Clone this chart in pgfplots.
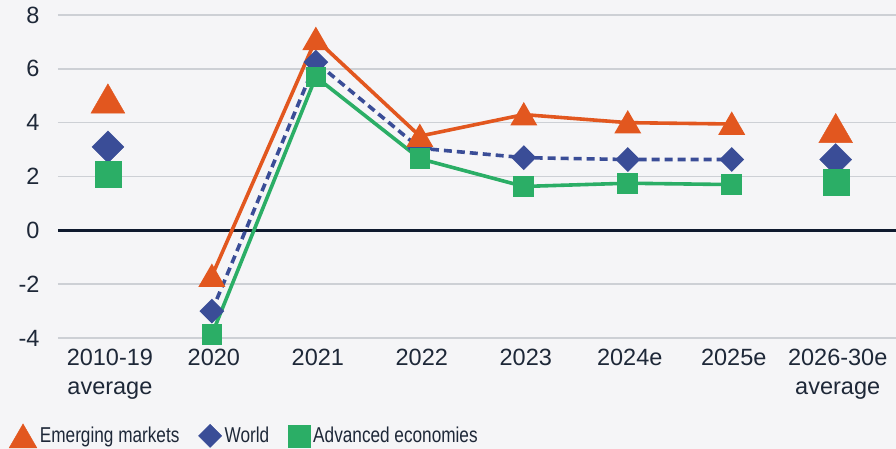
\documentclass[border=0pt]{standalone}
\usepackage{pgfplots}
\pgfplotsset{compat=1.18}
\usepackage{fontspec}
\setmainfont{Liberation Sans}
\newfontfamily\legfont[FakeStretch=0.8]{Liberation Sans}

\definecolor{emc}{HTML}{E2571F}
\definecolor{wc}{HTML}{3A4D97}
\definecolor{aec}{HTML}{2BAE66}
\definecolor{txt}{HTML}{1E2838}
\definecolor{gridc}{HTML}{CDD0D5}
\definecolor{zeroc}{HTML}{0F1A2E}
\definecolor{bg}{HTML}{F5F5F7}

\begin{document}
\begin{tikzpicture}[x=1pt,y=1pt]
\fill[bg] (-58,-111) rectangle (838,338);
\begin{axis}[
  scale only axis, width=838pt, height=323pt,
  xmin=-0.48, xmax=7.58, ymin=-4, ymax=8,
  ytick={-4,-2,...,8},
  xtick={0,...,7},
  xticklabels={{2010-19\\average},2020,2021,2022,2023,2024e,2025e,{2026-30e\\average}},
  axis line style={draw=none},
  major tick length=0pt,
  ymajorgrids,
  grid style={gridc, line width=1.6pt},
  extra y ticks={0},
  extra y tick labels={},
  extra y tick style={grid style={zeroc, line width=2.6pt}},
  tick label style={font=\fontsize{23.5}{29}\selectfont, text=txt},
  yticklabel style={anchor=east, xshift=-15pt},
  xticklabel style={align=center, anchor=north, yshift=-8pt, xshift=2pt},
  /pgf/number format/assume math mode=true,
  legend image code/.code={\draw[#1] plot coordinates {(0pt,0pt)};},
  legend columns=3,
  legend cell align=left,
  legend style={at={(-0.0585,-0.303)}, anchor=west, draw=none, fill=none,
    inner sep=0pt, font=\legfont\fontsize{21.5}{24}\selectfont, text=txt,
    nodes={inner xsep=3pt, inner ysep=0pt},
    /tikz/every even column/.append style={column sep=16pt},
    /tikz/every odd column/.append style={column sep=0pt}},
]

% World: dashed line with diamond markers
\addplot[wc, line width=3.6pt, dash pattern=on 8pt off 5pt,
  mark=square*, mark size=7pt, mark options={solid, rotate=45, draw=none, fill=wc},
  forget plot]
  coordinates {(1,-3.0) (2,6.25) (3,3.05) (4,2.7) (5,2.63) (6,2.63)};
% Advanced economies
\addplot[aec, line width=3.6pt,
  mark=square*, mark size=8.5pt, mark options={draw=none, fill=aec},
  forget plot]
  coordinates {(1,-3.87) (2,5.7) (3,2.66) (4,1.63) (5,1.75) (6,1.7)};
% Emerging markets
\addplot[emc, line width=3.6pt,
  mark=triangle*, mark size=12pt, mark options={yshift=-3pt, draw=none, fill=emc},
  forget plot]
  coordinates {(1,-1.7) (2,7.1) (3,3.5) (4,4.3) (5,4.0) (6,3.95)};

% Period averages
\addplot[wc, only marks, mark=square*, mark size=11.3pt,
  mark options={rotate=45, draw=none, fill=wc}, forget plot]
  coordinates {(0,3.1) (7,2.63)};
\addplot[aec, only marks, mark=square*, mark size=13pt,
  mark options={draw=none, fill=aec}, forget plot]
  coordinates {(0,2.08) (7,1.78)};
\addplot[emc, only marks, mark=triangle*, mark size=19.5pt,
  mark options={yshift=-4.9pt, draw=none, fill=emc}, forget plot]
  coordinates {(0,4.9) (7,3.8)};

\addlegendimage{emc, only marks, mark=triangle*, mark size=16pt, mark options={yshift=-4pt, draw=none, fill=emc}}
\addlegendentry{Emerging markets}
\addlegendimage{wc, only marks, mark=square*, mark size=8.2pt, mark options={rotate=45, draw=none, fill=wc}}
\addlegendentry{World}
\addlegendimage{aec, only marks, mark=square*, mark size=11pt, mark options={draw=none, fill=aec}}
\addlegendentry{Advanced economies}
\end{axis}
\pgfresetboundingbox
\path (-58,-111) rectangle (838,338);
\end{tikzpicture}
\end{document}
